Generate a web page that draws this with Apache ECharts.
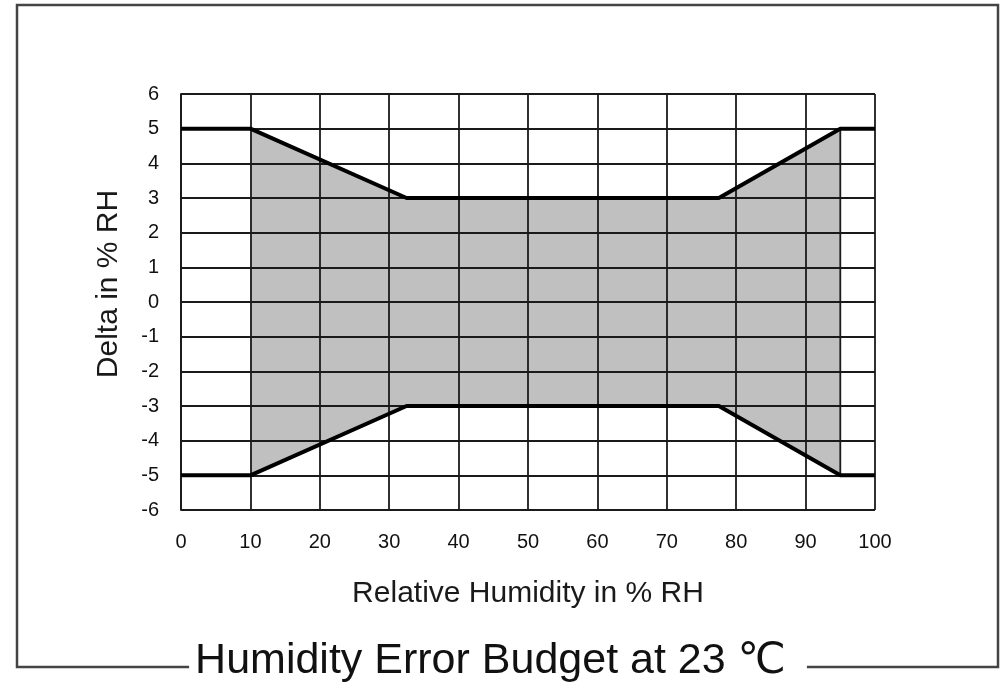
<!DOCTYPE html>
<html>
<head>
<meta charset="utf-8">
<script src="https://cdn.jsdelivr.net/npm/echarts@6/dist/echarts.min.js"></script>
<style>html,body{margin:0;padding:0;background:#fff}#c{width:1008px;height:684px}</style>
</head>
<body>
<div id="c"></div>
<script>
// Data
const xTicks = [0, 10, 20, 30, 40, 50, 60, 70, 80, 90, 100];
const yTicks = [-6, -5, -4, -3, -2, -1, 0, 1, 2, 3, 4, 5, 6];
const upperX = [0, 10, 32.5, 77.5, 95, 100];
const upperY = [5, 5, 3, 3, 5, 5];
const lowerX = [0, 10, 32.5, 77.5, 95, 100];
const lowerY = [-5, -5, -3, -3, -5, -5];
const bandX = [10, 32.5, 77.5, 95];
const bandUpper = [5, 3, 3, 5];
const bandLower = [-5, -3, -3, -5];
const edgeX = [95, 95];
const edgeY = [5, -5];
const titleText = 'Humidity Error Budget at 23 ℃';
const xName = 'Relative Humidity in % RH';
const yName = 'Delta in % RH';

const zip = (xs, ys) => xs.map((x, i) => [x, ys[i]]);
const font = '"Liberation Sans", Arial, "DejaVu Sans", sans-serif';
const ink = '#1a1a1a';

const chart = echarts.init(document.getElementById('c'));
chart.setOption({
  animation: false,
  backgroundColor: '#fff',
  grid: { left: 181, right: 133, top: 94, bottom: 174, containLabel: false },
  xAxis: {
    type: 'value', min: xTicks[0], max: xTicks[xTicks.length - 1], interval: 10, z: 3,
    name: xName, nameLocation: 'middle', nameGap: 69,
    nameTextStyle: { fontFamily: font, fontSize: 30, color: ink },
    axisLine: { show: true, lineStyle: { color: ink, width: 1.8 } },
    axisTick: { show: false },
    axisLabel: { margin: 22, fontFamily: font, fontSize: 20, color: '#111' },
    splitLine: { show: true, lineStyle: { color: ink, width: 1.8 } }
  },
  yAxis: {
    type: 'value', min: yTicks[0], max: yTicks[yTicks.length - 1], interval: 1, z: 3,
    axisLine: { show: true, lineStyle: { color: ink, width: 1.8 } },
    axisTick: { show: false },
    axisLabel: { margin: 22, fontFamily: font, fontSize: 20, color: '#111' },
    splitLine: { show: true, lineStyle: { color: ink, width: 1.8 } }
  },
  series: [
    { type: 'line', data: zip(bandX, bandUpper), symbol: 'none', z: 1, silent: true,
      lineStyle: { width: 0, opacity: 0 }, areaStyle: { color: '#c0c0c0', opacity: 1, origin: 'auto' } },
    { type: 'line', data: zip(bandX, bandLower), symbol: 'none', z: 1, silent: true,
      lineStyle: { width: 0, opacity: 0 }, areaStyle: { color: '#c0c0c0', opacity: 1, origin: 'auto' } },
    { type: 'line', data: zip(edgeX, edgeY), symbol: 'none', z: 4,
      lineStyle: { width: 1.8, color: ink } },
    { type: 'line', data: zip(upperX, upperY), symbol: 'none', z: 5,
      lineStyle: { width: 4, color: '#000' } },
    { type: 'line', data: zip(lowerX, lowerY), symbol: 'none', z: 5,
      lineStyle: { width: 4, color: '#000' } }
  ],
  graphic: [
    { type: 'rect', shape: { x: 17, y: 5, width: 981, height: 662 }, z: 0,
      style: { fill: 'none', stroke: '#444', lineWidth: 2.5 } },
    { type: 'text', x: 109, y: 284, rotation: Math.PI / 2, z: 10,
      style: { text: yName, fontFamily: font, fontSize: 30, fill: ink, align: 'center', verticalAlign: 'middle' } },
    { type: 'text', x: 498, y: 661, z: 10,
      style: { text: titleText, fontFamily: font, fontSize: 43, fill: '#111', align: 'center', verticalAlign: 'middle',
               backgroundColor: '#fff', padding: [0, 21, 0, 6] } }
  ]
});
</script>
</body>
</html>
